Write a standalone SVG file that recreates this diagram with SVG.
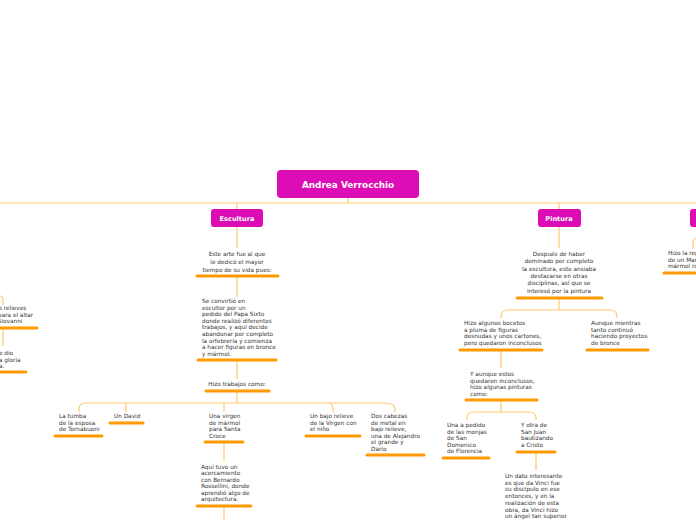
<svg xmlns="http://www.w3.org/2000/svg" width="696" height="520" viewBox="0 0 696 520">
<style>
.c{fill:none;stroke:#FFC971;stroke-width:1.2}
.u{stroke:#FF9A00;stroke-width:3;stroke-linecap:round}
.t{font-family:"DejaVu Sans",Verdana,sans-serif;font-size:5.75px;fill:#333}
.m{text-anchor:middle}
.n{fill:#DC0DB5}
.w{font-family:"DejaVu Sans",Verdana,sans-serif;font-weight:bold;fill:#fff;text-anchor:middle}
</style>
<rect width="696" height="520" fill="#fff"/>
<g id="connectors">
<path class="c" d="M0 203H696M348 198V203"/>
<path class="c" d="M237 203V209M559 203V209"/>
<path class="c" d="M237 227V248M237 277V297M237 361V379M237 392V403"/>
<path class="c" d="M86 403H383Q395 403 395 409V412M86 403Q79 403 79 409V412M126 403Q126 403 126 409V412M224 403V412M328 403Q333 403 333 409V412"/>
<path class="c" d="M224 443V461M224 507V520"/>
<path class="c" d="M559 227V248M559 299V310M508 310H610Q617 310 617 316V318M508 310Q501 310 501 316V318"/>
<path class="c" d="M501 351V368M501 401V412M474 412H529Q536 412 536 418V420M474 412Q467 412 467 418V420M536 453V470"/>
<path class="c" d="M0 296Q3 296 3 300V305M3 329V346"/>
<path class="c" d="M696 238Q693 238 693 244V249"/>
</g>
<g id="andrea">
<rect class="n" x="277" y="170" width="142" height="28" rx="4"/>
<text class="w" x="348" y="188" font-size="8.9">Andrea Verrocchio</text>
</g>
<g id="escultura">
<rect class="n" x="211" y="209" width="52" height="18" rx="3"/>
<text class="w" x="237" y="221" font-size="6.6">Escultura</text>
</g>
<g id="pintura">
<rect class="n" x="538" y="209" width="43" height="18" rx="3"/>
<text class="w" x="559" y="221" font-size="6.6">Pintura</text>
</g>
<g id="third">
<rect class="n" x="690" y="209" width="20" height="18" rx="3"/>
</g>
<g id="e1">
<text class="t m"><tspan x="237" y="256">Este arte fue al que</tspan><tspan x="237" y="264">le dedicó el mayor</tspan><tspan x="237" y="272">tiempo de su vida pues:</tspan></text>
<line class="u" x1="197" y1="276" x2="278" y2="276"/>
</g>
<g id="e2">
<text class="t"><tspan x="202" y="303">Se convirtió en</tspan><tspan x="202" y="309.6">escultor por un</tspan><tspan x="202" y="316.2">pedido del Papa Sixto</tspan><tspan x="202" y="322.8">donde realizó diferentes</tspan><tspan x="202" y="329.4">trabajos, y aquí decide</tspan><tspan x="202" y="336">abandonar por completo</tspan><tspan x="202" y="342.6">la orfebrería y comienza</tspan><tspan x="202" y="349.2">a hacer figuras en bronce</tspan><tspan x="202" y="355.8">y mármol.</tspan></text>
<line class="u" x1="198" y1="360" x2="276" y2="360"/>
</g>
<g id="e3">
<text class="t m" x="237" y="386">Hizo trabajos como:</text>
<line class="u" x1="206" y1="391" x2="269" y2="391"/>
</g>
<g id="tumba">
<text class="t"><tspan x="59" y="418">La tumba</tspan><tspan x="59" y="424.5">de la esposa</tspan><tspan x="59" y="431">de Tornabuoni</tspan></text>
<line class="u" x1="55" y1="436" x2="102" y2="436"/>
</g>
<g id="david">
<text class="t" x="114" y="418">Un David</text>
<line class="u" x1="110" y1="423" x2="143" y2="423"/>
</g>
<g id="virgen">
<text class="t"><tspan x="209" y="418">Una virgen</tspan><tspan x="209" y="424.5">de mármol</tspan><tspan x="209" y="431">para Santa</tspan><tspan x="209" y="437.5">Croce</tspan></text>
<line class="u" x1="205" y1="442" x2="243" y2="442"/>
</g>
<g id="rossellini">
<text class="t"><tspan x="201" y="468.5">Aquí tuvo un</tspan><tspan x="201" y="475">acercamiento</tspan><tspan x="201" y="481.5">con Bernardo</tspan><tspan x="201" y="488">Rossellini, donde</tspan><tspan x="201" y="494.5">aprendió algo de</tspan><tspan x="201" y="501">arquitectura.</tspan></text>
<line class="u" x1="197" y1="506" x2="251" y2="506"/>
</g>
<g id="bajo">
<text class="t"><tspan x="310" y="418">Un bajo relieve</tspan><tspan x="310" y="424.5">de la Virgen con</tspan><tspan x="310" y="431">el niño</tspan></text>
<line class="u" x1="306" y1="436" x2="360" y2="436"/>
</g>
<g id="cabezas">
<text class="t"><tspan x="371" y="418">Dos cabezas</tspan><tspan x="371" y="424.5">de metal en</tspan><tspan x="371" y="431">bajo relieve,</tspan><tspan x="371" y="437.5">una de Alejandro</tspan><tspan x="371" y="444">el grande y</tspan><tspan x="371" y="450.5">Darío</tspan></text>
<line class="u" x1="367" y1="455" x2="424" y2="455"/>
</g>
<g id="left1">
<text class="t"><tspan x="-1" y="310">s relieves</tspan><tspan x="-2" y="316.5">para el altar</tspan><tspan x="-3" y="323">Giovanni</tspan></text>
<line class="u" x1="-2" y1="328" x2="37" y2="328"/>
</g>
<g id="left2">
<text class="t"><tspan x="-1" y="355">e dio</tspan><tspan x="-1" y="361.5">a gloria</tspan><tspan x="-1" y="368">a.</tspan></text>
<line class="u" x1="-2" y1="372" x2="26" y2="372"/>
</g>
<g id="p1">
<text class="t m"><tspan x="559" y="256">Después de haber</tspan><tspan x="559" y="263.3">dominado por completo</tspan><tspan x="559" y="270.6">la escultura, este ansiaba</tspan><tspan x="559" y="277.9">destacarse en otras</tspan><tspan x="559" y="285.2">disciplinas, así que se</tspan><tspan x="559" y="292.5">interesó por la pintura</tspan></text>
<line class="u" x1="517" y1="298" x2="602" y2="298"/>
</g>
<g id="bocetos">
<text class="t"><tspan x="464" y="325">Hizo algunos bocetos</tspan><tspan x="464" y="331.5">a pluma de figuras</tspan><tspan x="464" y="338">desnudas y unos cartones,</tspan><tspan x="464" y="344.5">pero quedaron inconclusos</tspan></text>
<line class="u" x1="460" y1="350" x2="542" y2="350"/>
</g>
<g id="aunque">
<text class="t"><tspan x="591" y="325">Aunque mientras</tspan><tspan x="591" y="331.5">tanto continuó</tspan><tspan x="591" y="338">haciendo proyectos</tspan><tspan x="591" y="344.5">de bronce</tspan></text>
<line class="u" x1="587" y1="350" x2="648" y2="350"/>
</g>
<g id="yaunque">
<text class="t"><tspan x="470" y="376">Y aunque estos</tspan><tspan x="470" y="382.5">quedaron inconclusos,</tspan><tspan x="470" y="389">hizo algunas pinturas</tspan><tspan x="470" y="395.5">como:</tspan></text>
<line class="u" x1="466" y1="400" x2="537" y2="400"/>
</g>
<g id="monjas">
<text class="t"><tspan x="447" y="427">Una a pedido</tspan><tspan x="447" y="433.5">de las monjas</tspan><tspan x="447" y="440">de San</tspan><tspan x="447" y="446.5">Domenico</tspan><tspan x="447" y="453">de Florencia</tspan></text>
<line class="u" x1="443" y1="458" x2="489" y2="458"/>
</g>
<g id="sanjuan">
<text class="t"><tspan x="521" y="427">Y otra de</tspan><tspan x="521" y="433.5">San Juan</tspan><tspan x="521" y="440">bautizando</tspan><tspan x="521" y="446.5">a Cristo</tspan></text>
<line class="u" x1="517" y1="452" x2="555" y2="452"/>
</g>
<g id="dato">
<text class="t"><tspan x="505" y="478">Un dato interesante</tspan><tspan x="505" y="484.7">es que da Vinci fue</tspan><tspan x="505" y="491.4">su discípulo en ese</tspan><tspan x="505" y="498.1">entonces, y en la</tspan><tspan x="505" y="504.8">realización de esta</tspan><tspan x="505" y="511.5">obra, da Vinci hizo</tspan><tspan x="505" y="518.2">un ángel tan superior</tspan></text>
</g>
<g id="right1">
<text class="t"><tspan x="668" y="255">Hizo la rep</tspan><tspan x="668" y="261.5">de un Mar</tspan><tspan x="668" y="268">mármol ro</tspan></text>
<line class="u" x1="664" y1="273" x2="698" y2="273"/>
</g>
</svg>
